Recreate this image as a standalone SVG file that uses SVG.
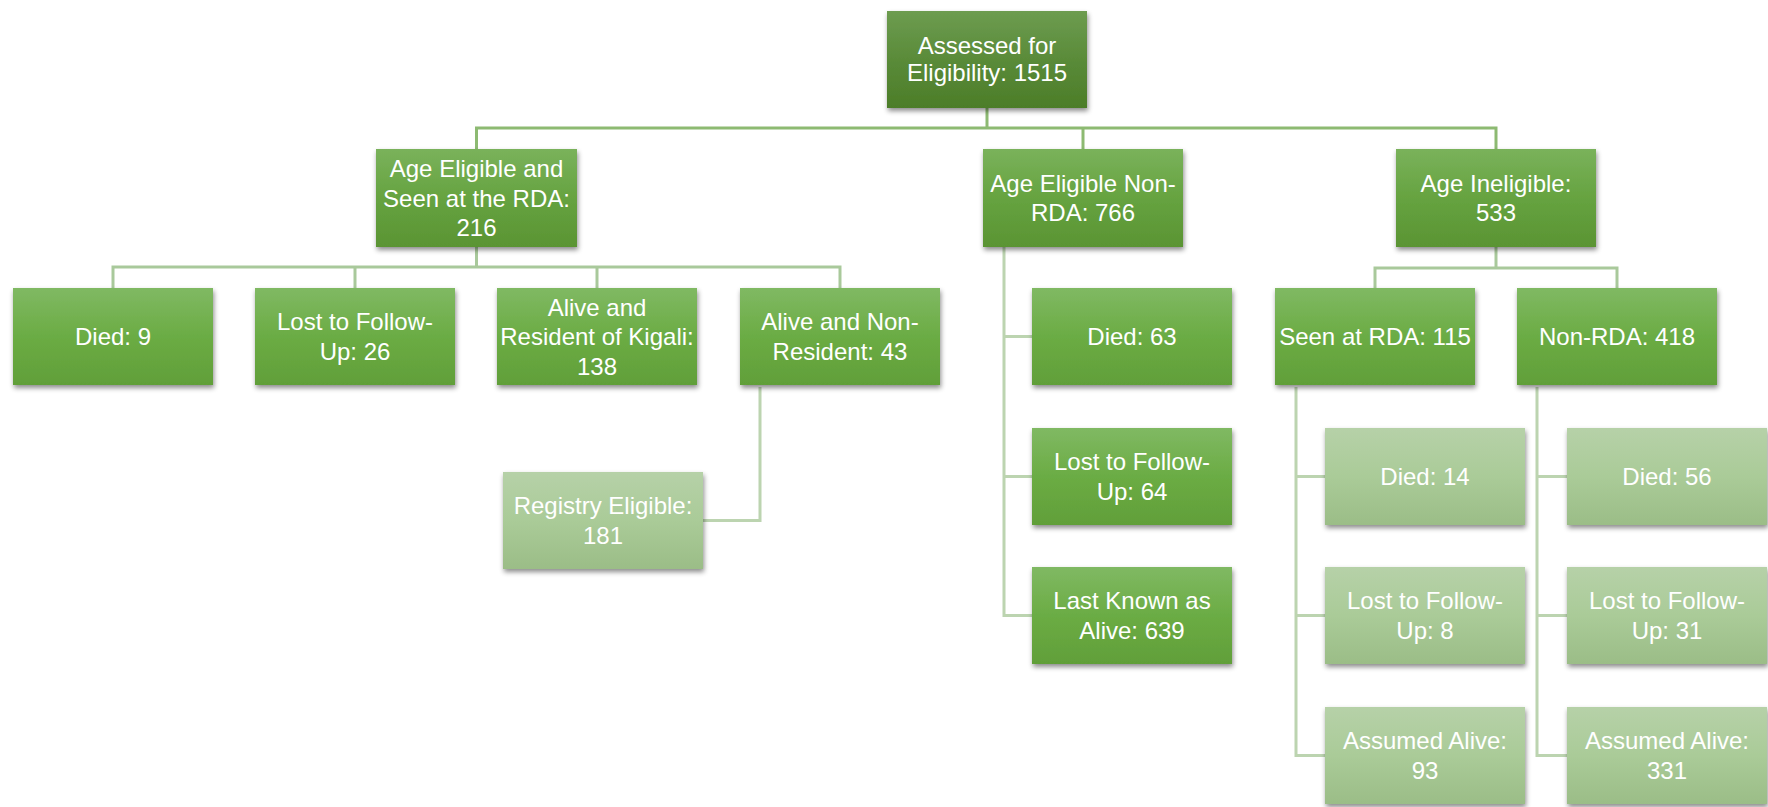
<svg xmlns="http://www.w3.org/2000/svg" width="1768" height="807" viewBox="0 0 1768 807">
<style>
.t{font-family:"Liberation Sans",Arial,sans-serif;font-size:24px;fill:#ffffff;text-anchor:middle}
.c1{fill:none;stroke:#8dba72;stroke-width:3}
.c2{fill:none;stroke:#a9c99b;stroke-width:3}
.c3{fill:none;stroke:#bcd4b0;stroke-width:3}
.top{fill:url(#gTop);filter:url(#sh)}
.mid{fill:url(#gMid);filter:url(#sh)}
.l2{fill:url(#gL2);filter:url(#sh)}
.lt{fill:url(#gLt);filter:url(#sh)}
</style>
<defs>
<linearGradient id="gTop" x1="0" y1="0" x2="0" y2="1"><stop offset="0" stop-color="#6d9c50"/><stop offset="0.5" stop-color="#5a8b39"/><stop offset="1" stop-color="#4c7d28"/></linearGradient>
<linearGradient id="gL2" x1="0" y1="0" x2="0" y2="1"><stop offset="0" stop-color="#7ab25b"/><stop offset="0.5" stop-color="#66a340"/><stop offset="1" stop-color="#5a9433"/></linearGradient>
<linearGradient id="gMid" x1="0" y1="0" x2="0" y2="1"><stop offset="0" stop-color="#80b963"/><stop offset="0.5" stop-color="#6bac44"/><stop offset="1" stop-color="#619f39"/></linearGradient>
<linearGradient id="gLt" x1="0" y1="0" x2="0" y2="1"><stop offset="0" stop-color="#b6d1a8"/><stop offset="0.5" stop-color="#aacb98"/><stop offset="1" stop-color="#9bbd87"/></linearGradient>
<filter id="sh" x="-10%" y="-10%" width="125%" height="135%"><feDropShadow dx="1" dy="3" stdDeviation="2.5" flood-color="#000" flood-opacity="0.45"/></filter>
</defs>
<g id="connectors">
<path class="c1" d="M987 108V128M476.5 149V128H1496V149M1083 128V149"/>
<path class="c2" d="M476.5 247V267M113 288V267H840V288M355 267V288M597 267V288"/>
<path class="c3" d="M760 387V520.5H703"/>
<path class="c3" d="M1004 247V615.5H1032M1004 336.5H1032M1004 476.5H1032"/>
<path class="c2" d="M1496 247V268M1375 288V268H1617V288"/>
<path class="c3" d="M1296 387V755.5H1325M1296 476.5H1325M1296 615.5H1325"/>
<path class="c3" d="M1537 387V755.5H1567M1537 476.5H1567M1537 615.5H1567"/>
</g>
<g id="assessed"><rect class="top" x="887" y="11" width="200" height="97"/><text class="t" x="987" y="54">Assessed for</text><text class="t" x="987" y="81">Eligibility: 1515</text></g>
<g id="age-eligible-rda"><rect class="l2" x="376" y="149" width="201" height="98"/><text class="t" x="476.5" y="177">Age Eligible and</text><text class="t" x="476.5" y="206.6">Seen at the RDA:</text><text class="t" x="476.5" y="236">216</text></g>
<g id="age-eligible-non-rda"><rect class="l2" x="983" y="149" width="200" height="98"/><text class="t" x="1083" y="192">Age Eligible Non-</text><text class="t" x="1083" y="221.4">RDA: 766</text></g>
<g id="age-ineligible"><rect class="l2" x="1396" y="149" width="200" height="98"/><text class="t" x="1496" y="192">Age Ineligible:</text><text class="t" x="1496" y="221.4">533</text></g>
<g id="died-9"><rect class="mid" x="13" y="288" width="200" height="97"/><text class="t" x="113" y="345">Died: 9</text></g>
<g id="lost-26"><rect class="mid" x="255" y="288" width="200" height="97"/><text class="t" x="355" y="330.4">Lost to Follow-</text><text class="t" x="355" y="359.9">Up: 26</text></g>
<g id="alive-resident"><rect class="mid" x="497" y="288" width="200" height="97"/><text class="t" x="597" y="315.6">Alive and</text><text class="t" x="597" y="345.1">Resident of Kigali:</text><text class="t" x="597" y="374.6">138</text></g>
<g id="alive-non-resident"><rect class="mid" x="740" y="288" width="200" height="97"/><text class="t" x="840" y="330.4">Alive and Non-</text><text class="t" x="840" y="359.9">Resident: 43</text></g>
<g id="registry"><rect class="lt" x="503" y="472" width="200" height="97"/><text class="t" x="603" y="514.4">Registry Eligible:</text><text class="t" x="603" y="543.9">181</text></g>
<g id="died-63"><rect class="mid" x="1032" y="288" width="200" height="97"/><text class="t" x="1132" y="345">Died: 63</text></g>
<g id="lost-64"><rect class="mid" x="1032" y="428" width="200" height="97"/><text class="t" x="1132" y="470.4">Lost to Follow-</text><text class="t" x="1132" y="499.9">Up: 64</text></g>
<g id="last-known"><rect class="mid" x="1032" y="567" width="200" height="97"/><text class="t" x="1132" y="609.4">Last Known as</text><text class="t" x="1132" y="638.9">Alive: 639</text></g>
<g id="seen-rda-115"><rect class="mid" x="1275" y="288" width="200" height="97"/><text class="t" x="1375" y="345">Seen at RDA: 115</text></g>
<g id="non-rda-418"><rect class="mid" x="1517" y="288" width="200" height="97"/><text class="t" x="1617" y="345">Non-RDA: 418</text></g>
<g id="died-14"><rect class="lt" x="1325" y="428" width="200" height="97"/><text class="t" x="1425" y="485">Died: 14</text></g>
<g id="lost-8"><rect class="lt" x="1325" y="567" width="200" height="97"/><text class="t" x="1425" y="609.4">Lost to Follow-</text><text class="t" x="1425" y="638.9">Up: 8</text></g>
<g id="assumed-93"><rect class="lt" x="1325" y="707" width="200" height="97"/><text class="t" x="1425" y="749.4">Assumed Alive:</text><text class="t" x="1425" y="778.9">93</text></g>
<g id="died-56"><rect class="lt" x="1567" y="428" width="200" height="97"/><text class="t" x="1667" y="485">Died: 56</text></g>
<g id="lost-31"><rect class="lt" x="1567" y="567" width="200" height="97"/><text class="t" x="1667" y="609.4">Lost to Follow-</text><text class="t" x="1667" y="638.9">Up: 31</text></g>
<g id="assumed-331"><rect class="lt" x="1567" y="707" width="200" height="97"/><text class="t" x="1667" y="749.4">Assumed Alive:</text><text class="t" x="1667" y="778.9">331</text></g>
</svg>
